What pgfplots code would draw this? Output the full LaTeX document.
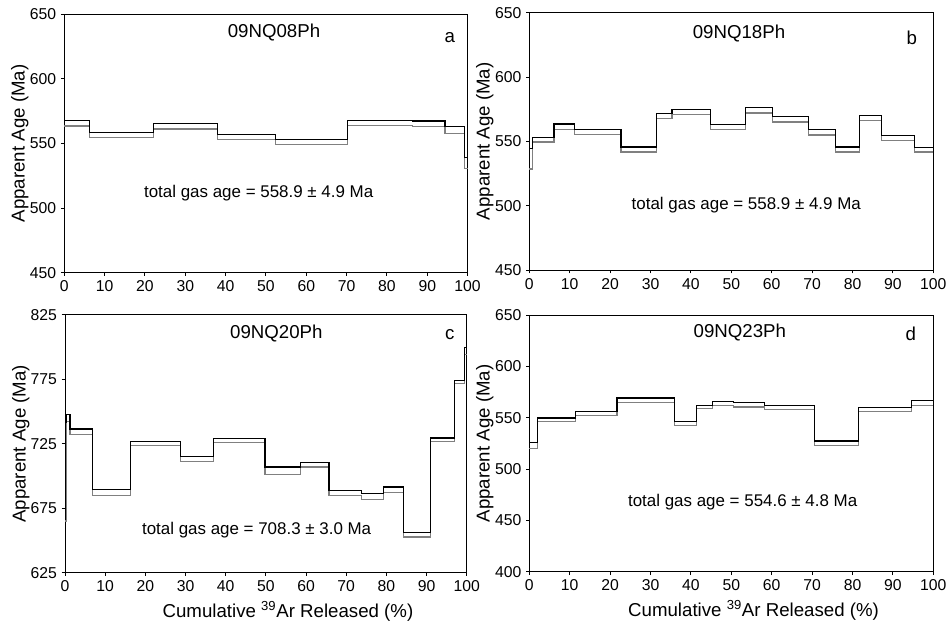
\documentclass[border=0pt]{standalone}
\usepackage{fontspec}
\setmainfont{Liberation Sans}
\usepackage{pgfplots}
\pgfplotsset{compat=1.18}

\pgfplotsset{
  spec/.style={
    scale only axis,
    xmin=0, xmax=100,
    xtick={0,10,...,100},
    xtick pos=bottom, ytick pos=left,
    tick align=outside,
    major tick length=2.5pt,
    axis line style={line width=0.7pt},
    tick style={line width=0.7pt, black},
    tick label style={font=\fontsize{11.8}{13}\selectfont},
    /pgf/number format/assume math mode=true,
    /pgf/number format/1000 sep={},
    label style={font=\fontsize{14}{16}\selectfont},
    ylabel={Apparent Age (Ma)},
    y label style={at={(axis description cs:-0.11,0.5)}, anchor=center},
    x label style={at={(axis description cs:0.555,0)}, anchor=center, yshift=-29pt},
    clip=false,
  },
  hi/.style={const plot mark left, black, line width=0.85pt, mark=none},
  lo/.style={const plot mark left, black!50, line width=0.85pt, mark=none},
}

\begin{document}
\begin{tikzpicture}
\useasboundingbox (0,0) rectangle (710.25pt,472.5pt);

% a
\begin{axis}[spec, at={(48.2pt,268.0pt)}, anchor=south west,
  width=302.5pt, height=193.8pt, ymin=450, ymax=650, ytick={450,500,...,650}]
\addplot[lo] coordinates {(0,563.5)(6.3,554.8)(22.1,561.2)(38.0,553.3)(52.4,549.1)(70.3,563.8)(86.3,563.0)(94.4,557.9)(99.2,530.3)(100,530.3)};
\addplot[hi] coordinates {(0,567.7)(6.3,558.7)(22.1,565.3)(38.0,557.1)(52.4,553.0)(70.3,568.0)(86.3,567.4)(94.4,563.0)(99.2,539.3)(100,539.3)};
\node[font=\fontsize{14}{16}\selectfont] at (rel axis cs:0.52,0.93) {09NQ08Ph};
\node[font=\fontsize{14}{16}\selectfont] at (rel axis cs:0.956,0.909) {a};
\node[font=\fontsize{12.7}{14}\selectfont] at (rel axis cs:0.482,0.307) {total gas age = 558.9 ± 4.9 Ma};
\end{axis}

% b
\begin{axis}[spec, at={(397pt,270pt)}, anchor=south west,
  width=303pt, height=193pt, ymin=450, ymax=650, ytick={450,500,...,650}]
\addplot[lo] coordinates {(0,528.5)(0.75,549.5)(6.1,559.3)(11.1,555.5)(22.7,541.7)(31.5,567.6)(35.3,571.0)(44.8,559.3)(53.4,572.0)(60.1,565.0)(69.2,554.9)(75.7,541.7)(81.7,566.0)(87.1,550.8)(95.3,541.7)(100,541.7)};
\addplot[hi] coordinates {(0,544.5)(0.75,553.3)(6.1,563.5)(11.1,559.3)(22.7,545.6)(31.5,571.8)(35.3,574.9)(44.8,563.2)(53.4,576.5)(60.1,569.2)(69.2,559.0)(75.7,545.6)(81.7,570.2)(87.1,554.7)(95.3,545.3)(100,545.3)};
\node[font=\fontsize{14}{16}\selectfont] at (rel axis cs:0.519,0.92) {09NQ18Ph};
\node[font=\fontsize{14}{16}\selectfont] at (rel axis cs:0.947,0.904) {b};
\node[font=\fontsize{12.7}{14}\selectfont] at (rel axis cs:0.537,0.253) {total gas age = 558.9 ± 4.9 Ma};
\end{axis}

% c
\begin{axis}[spec, at={(48.75pt,43.0pt)}, anchor=south west,
  width=301.3pt, height=193.3pt, ymin=625, ymax=825, ytick={625,675,...,825},
  xlabel={Cumulative \textsuperscript{39}Ar Released (\%)}]
\addplot[lo] coordinates {(0,665.1)(0.4,742.0)(1.25,732.1)(6.8,685.1)(16.3,723.6)(28.7,711.5)(36.9,725.7)(49.8,701.4)(58.6,707.0)(65.7,685.1)(73.9,682.0)(79.2,687.1)(84.3,652.7)(90.9,726.7)(97.0,772.0)(99.4,794.0)(100,794.0)};
\addplot[hi] coordinates {(0,741.4)(0.4,747.6)(1.25,736.5)(6.8,689.2)(16.3,727.0)(28.7,715.0)(36.9,729.0)(49.8,707.0)(58.6,710.7)(65.7,688.7)(73.9,686.3)(79.2,691.5)(84.3,656.0)(90.9,729.5)(97.0,774.3)(99.4,799.6)(100,799.6)};
\node[font=\fontsize{14}{16}\selectfont] at (rel axis cs:0.526,0.929) {09NQ20Ph};
\node[font=\fontsize{14}{16}\selectfont] at (rel axis cs:0.958,0.922) {c};
\node[font=\fontsize{12.7}{14}\selectfont] at (rel axis cs:0.477,0.166) {total gas age = 708.3 ± 3.0 Ma};
\end{axis}

% d
\begin{axis}[spec, at={(397pt,43.7pt)}, anchor=south west,
  width=303pt, height=192.5pt, ymin=400, ymax=650, ytick={400,450,...,650},
  xlabel={Cumulative \textsuperscript{39}Ar Released (\%)}]
\addplot[lo] coordinates {(0,519.8)(2.0,546.5)(11.4,551.9)(21.7,564.6)(35.9,542.5)(41.3,559.1)(45.4,561.7)(50.6,560.4)(58.3,558.2)(70.6,523.1)(81.4,555.8)(94.7,562.3)(100,562.3)};
\addplot[hi] coordinates {(0,526.0)(2.0,549.7)(11.4,555.8)(21.7,569.2)(35.9,546.1)(41.3,562.3)(45.4,565.6)(50.6,564.6)(58.3,562.3)(70.6,527.3)(81.4,559.7)(94.7,566.5)(100,566.5)};
\node[font=\fontsize{14}{16}\selectfont] at (rel axis cs:0.521,0.933) {09NQ23Ph};
\node[font=\fontsize{14}{16}\selectfont] at (rel axis cs:0.944,0.925) {d};
\node[font=\fontsize{12.7}{14}\selectfont] at (rel axis cs:0.528,0.273) {total gas age = 554.6 ± 4.8 Ma};
\end{axis}
\end{tikzpicture}
\end{document}
